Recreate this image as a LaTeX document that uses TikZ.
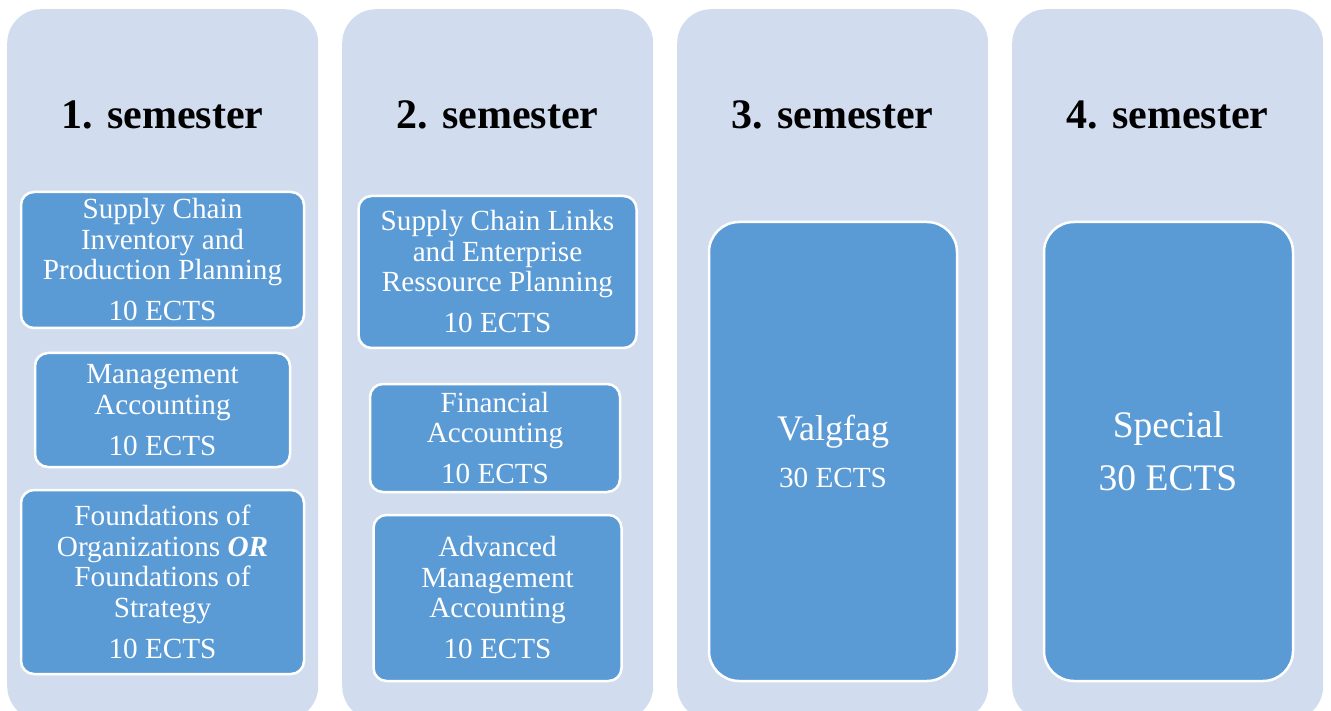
\documentclass[tikz,border=0pt]{standalone}
\usepackage{fontspec}
\setmainfont{Liberation Serif}
\definecolor{colbg}{RGB}{209,221,238}
\definecolor{course}{RGB}{91,155,213}

\begin{document}
\begin{tikzpicture}[x=1pt,y=-1pt,
  semcol/.style={fill=colbg, rounded corners=34pt, inner sep=0pt, anchor=north west},
  coursebox/.style={draw=white, line width=2.5pt, fill=course, rounded corners=13pt,
    text=white, align=center, inner sep=0pt,
    font=\fontsize{29.2}{30.5}\selectfont},
  bigbox/.style={draw=white, line width=2.5pt, fill=course, rounded corners=30pt, inner sep=0pt},
  bigtext/.style={text=white, anchor=base, inner sep=0pt},
  heading/.style={font=\bfseries\fontsize{42}{46}\selectfont, anchor=base, inner sep=0pt}]

\useasboundingbox (0,0) rectangle (1331,711);

% semester columns (running off the bottom edge)
\node[semcol, minimum width=311pt, minimum height=711pt] (s1) at (7,9) {};
\node[semcol, minimum width=311pt, minimum height=711pt] (s2) at (342,9) {};
\node[semcol, minimum width=311pt, minimum height=711pt] (s3) at (677,9) {};
\node[semcol, minimum width=311pt, minimum height=711pt] (s4) at (1012,9) {};

% headings
\node[heading] (h1) at (162.5,129) {1. semester};
\node[heading] (h2) at (497.5,129) {2. semester};
\node[heading] (h3) at (832.5,129) {3. semester};
\node[heading] (h4) at (1167.5,129) {4. semester};

% 1. semester
\node[coursebox, minimum width=283pt, minimum height=136pt] (c11) at (162.5,260)
  {Supply Chain\\Inventory and\\Production Planning\\[10.5pt]10 ECTS};
\node[coursebox, minimum width=255pt, minimum height=114pt] (c12) at (162.5,410)
  {Management\\Accounting\\[10.5pt]10 ECTS};
\node[coursebox, minimum width=283pt, minimum height=184pt] (c13) at (162.5,582)
  {Foundations of\\Organizations \textbf{\textit{OR}}\\Foundations of\\Strategy\\[10.5pt]10 ECTS};

% 2. semester
\node[coursebox, minimum width=278pt, minimum height=152pt] (c21) at (497.5,272)
  {Supply Chain Links\\and Enterprise\\Ressource Planning\\[10.5pt]10 ECTS};
\node[coursebox, minimum width=250pt, minimum height=108pt] (c22) at (495,438)
  {Financial\\Accounting\\[10.5pt]10 ECTS};
\node[coursebox, minimum width=248pt, minimum height=166pt] (c23) at (497.5,598)
  {Advanced\\Management\\Accounting\\[10.5pt]10 ECTS};

% 3. semester
\node[bigbox, minimum width=248pt, minimum height=459pt] (c31) at (833,451.5) {};
\node[bigtext, font=\fontsize{36}{40}\selectfont] (t31) at (833,440.7) {Valgfag};
\node[bigtext, font=\fontsize{29.2}{33}\selectfont] (e31) at (833,487) {30 ECTS};

% 4. semester
\node[bigbox, minimum width=249pt, minimum height=459pt] (c41) at (1168.5,451.5) {};
\node[bigtext, font=\fontsize{37.5}{42}\selectfont] (t41) at (1168,437) {Special};
\node[bigtext, font=\fontsize{37.5}{42}\selectfont] (e41) at (1168,490) {30 ECTS};
\end{tikzpicture}
\end{document}
